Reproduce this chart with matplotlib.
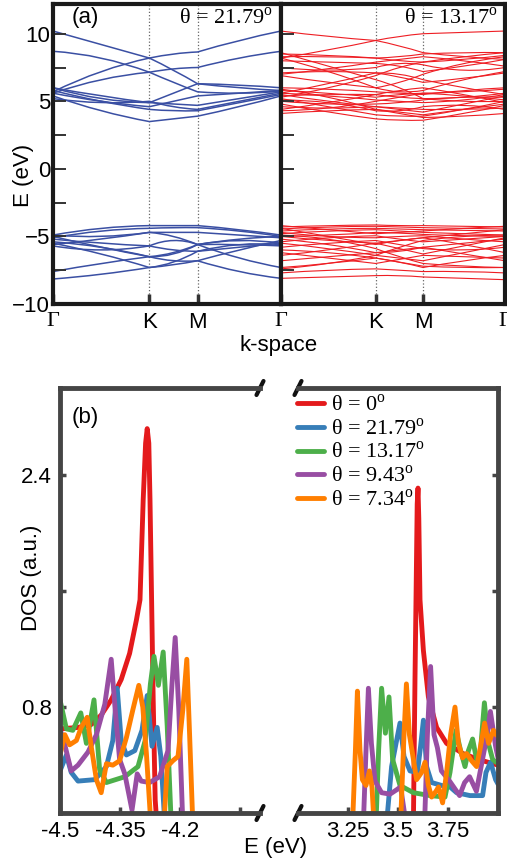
import numpy as np
import matplotlib
matplotlib.use("Agg")
import matplotlib.pyplot as plt
from matplotlib.path import Path
from matplotlib.patches import PathPatch

plt.rcParams['font.family'] = ['Liberation Sans', 'DejaVu Sans']
plt.rcParams['mathtext.fontset'] = 'custom'
plt.rcParams['mathtext.rm'] = 'Liberation Serif'

# ---------------- (a) band structure ----------------
# k-path positions: Gamma, 1/2 GK, K, 1/2 KM, M, 1/2 MG, Gamma
kpts = [0.0, 0.5, 1.0, 1.25, 1.5, 1.933, 2.366]
k_ticks = [0.0, 1.0, 1.5, 2.366]

# bands for theta = 21.79 deg, energies (eV) at the kpts above
bands_2179 = [
    [10.2, 9.2, 8.2, 7.3, 6.3, 6.0, 5.8],
    [5.7, 7.2, 8.2, 8.5, 8.65, 9.5, 10.2],
    [5.6, 6.6, 7.15, 7.4, 7.5, 8.2, 8.7],
    [8.7, 8.2, 7.15, 6.4, 5.7, 5.6, 5.75],
    [6.0, 5.4, 4.9, 5.6, 6.3, 6.2, 6.0],
    [5.8, 5.0, 4.4, 4.3, 4.3, 4.9, 5.5],
    [5.4, 4.3, 3.5, 3.7, 3.9, 4.6, 5.4],
    [5.6, 5.0, 4.6, 5.0, 5.4, 5.6, 5.8],
    [6.0, 5.2, 4.9, 4.8, 4.7, 5.2, 5.7],
    [5.2, 4.9, 5.0, 4.6, 4.4, 5.0, 5.6],
    [-4.9, -4.4, -4.2, -4.2, -4.2, -4.5, -4.9],
    [-5.1, -4.6, -4.4, -4.35, -4.35, -4.6, -5.0],
    [-4.9, -5.0, -4.7, -4.7, -4.7, -4.9, -5.1],
    [-5.0, -5.8, -6.5, -6.3, -5.6, -5.2, -5.0],
    [-5.5, -6.3, -7.3, -7.1, -6.8, -6.0, -5.3],
    [-7.6, -7.0, -6.5, -6.2, -5.6, -5.3, -5.5],
    [-8.15, -7.8, -7.3, -6.9, -6.1, -5.6, -5.6],
    [-5.7, -6.0, -5.7, -5.3, -5.6, -6.6, -7.3],
    [-5.4, -5.8, -6.5, -6.8, -6.8, -7.6, -8.1],
    [-5.2, -5.5, -5.7, -6.0, -6.1, -5.8, -5.5],
    [-5.6, -5.2, -4.7, -5.0, -5.6, -5.6, -5.7],
]

# bands for theta = 13.17 deg
bands_1317 = [
    [10.2, 9.8, 9.5, 9.1, 8.6, 8.3, 8.1],
    [8.2, 8.8, 9.5, 9.8, 10.0, 10.1, 10.2],
    [8.5, 8.4, 8.2, 8.0, 7.9, 8.1, 8.4],
    [8.3, 8.3, 8.2, 8.3, 8.5, 8.6, 8.6],
    [8.0, 7.9, 7.8, 7.6, 7.2, 7.6, 8.1],
    [7.0, 7.4, 7.9, 8.1, 8.3, 8.0, 7.6],
    [7.1, 7.2, 7.1, 6.8, 6.4, 6.7, 7.1],
    [8.2, 7.2, 6.0, 5.7, 5.8, 6.6, 7.2],
    [6.9, 6.4, 6.0, 6.4, 7.0, 7.8, 8.3],
    [5.6, 6.3, 7.1, 7.0, 6.6, 6.0, 5.5],
    [8.6, 7.6, 6.6, 6.0, 5.2, 5.0, 5.0],
    [5.3, 6.0, 6.9, 7.5, 7.9, 8.3, 8.6],
    [5.5, 5.0, 4.6, 4.4, 4.2, 4.8, 5.4],
    [5.2, 4.6, 4.0, 3.9, 3.9, 4.4, 5.0],
    [4.8, 4.2, 3.7, 3.6, 3.6, 4.1, 4.7],
    [5.0, 4.8, 4.8, 4.9, 5.1, 5.3, 5.3],
    [5.6, 5.4, 5.1, 5.0, 4.9, 5.1, 5.5],
    [4.6, 4.5, 4.6, 4.5, 4.4, 4.4, 4.5],
    [4.3, 4.5, 5.0, 5.3, 5.6, 5.4, 5.1],
    [5.9, 5.3, 4.4, 4.2, 4.0, 4.4, 4.8],
    [4.1, 4.3, 4.4, 4.1, 3.8, 3.9, 4.1],
    [5.4, 5.5, 5.5, 5.3, 5.2, 5.3, 5.6],
    [5.8, 5.6, 5.3, 5.5, 5.6, 5.7, 5.9],
    [4.4, 4.9, 5.5, 5.8, 6.0, 5.5, 4.9],
    [5.1, 4.9, 4.3, 4.3, 4.6, 4.7, 4.4],
    [6.0, 5.9, 5.7, 5.6, 5.5, 5.8, 6.0],
    [7.5, 7.3, 7.5, 7.8, 7.7, 7.3, 7.5],
    [-4.3, -4.2, -4.15, -4.2, -4.2, -4.25, -4.3],
    [-4.45, -4.3, -4.25, -4.3, -4.35, -4.4, -4.45],
    [-4.6, -4.45, -4.4, -4.45, -4.5, -4.55, -4.6],
    [-4.2, -4.5, -4.8, -4.7, -4.6, -4.4, -4.25],
    [-4.8, -4.6, -4.5, -4.6, -4.7, -4.8, -4.9],
    [-5.0, -4.9, -4.7, -4.75, -4.85, -4.95, -5.0],
    [-4.4, -5.0, -5.6, -5.3, -5.1, -4.8, -4.5],
    [-5.2, -5.6, -6.2, -6.1, -5.8, -5.5, -5.2],
    [-5.5, -5.9, -6.4, -6.6, -6.8, -6.2, -5.6],
    [-6.4, -6.0, -5.5, -5.3, -5.1, -5.6, -6.2],
    [-6.8, -6.5, -6.2, -6.0, -5.8, -6.3, -6.8],
    [-6.2, -6.6, -7.0, -6.7, -6.4, -6.5, -6.6],
    [-7.3, -7.0, -6.6, -6.9, -7.2, -7.3, -7.3],
    [-7.7, -7.5, -7.4, -7.5, -7.6, -7.6, -7.7],
    [-8.1, -8.0, -7.9, -7.9, -8.0, -8.1, -8.2],
    [-5.0, -5.3, -5.5, -5.9, -6.3, -5.7, -5.1],
    [-5.8, -5.5, -5.3, -5.6, -5.9, -6.0, -5.8],
    [-4.9, -5.2, -5.9, -6.5, -7.0, -7.2, -7.3],
    [-7.4, -7.0, -6.4, -5.8, -5.3, -5.0, -4.9],
    [-6.0, -6.2, -6.6, -6.9, -7.3, -6.8, -6.4],
    [-4.7, -5.0, -5.1, -5.0, -4.95, -5.2, -5.4],
    [-5.4, -5.1, -4.95, -5.2, -5.4, -5.2, -5.0],
]

# ---------------- (b) density of states ----------------
dos_labels = ['θ = 0$^{\\rm o}$', 'θ = 21.79$^{\\rm o}$', 'θ = 13.17$^{\\rm o}$',
              'θ = 9.43$^{\\rm o}$', 'θ = 7.34$^{\\rm o}$']
dos_colors = ['#e41a1c', '#377eb8', '#4daf4a', '#984ea3', '#ff7f00']

# valence side (E < 0)
red_lo_E = [-4.5, -4.455, -4.422, -4.397, -4.372, -4.347, -4.326, -4.309, -4.300, -4.292,
            -4.286, -4.282, -4.278, -4.275, -4.271, -4.267, -4.262, -4.258]
red_lo_D = [0.65, 0.66, 0.68, 0.745, 0.85, 0.99, 1.17, 1.40, 1.54, 2.23,
            2.62, 2.72, 2.62, 2.23, 1.54, 0.85, 0.16, 0.0]
blue_lo_E = [-4.5, -4.484, -4.472, -4.455, -4.413, -4.384, -4.368, -4.357, -4.347, -4.334,
             -4.313, -4.295, -4.282, -4.270, -4.257, -4.248, -4.238]
blue_lo_D = [0.36, 0.47, 0.35, 0.29, 0.30, 0.39, 0.57, 0.93, 0.57, 0.47,
             0.50, 0.64, 0.88, 0.53, 0.66, 0.46, 0.0]
green_lo_E = [-4.5, -4.484, -4.468, -4.448, -4.434, -4.415, -4.401, -4.384, -4.338, -4.305,
              -4.287, -4.274, -4.265, -4.254, -4.242, -4.232, -4.222]
green_lo_D = [0.85, 0.65, 0.64, 0.76, 0.55, 0.85, 0.37, 0.28, 0.32, 0.39,
              0.57, 0.96, 1.15, 0.95, 1.18, 0.67, 0.0]
purple_lo_E = [-4.5, -4.488, -4.472, -4.455, -4.43, -4.409, -4.388, -4.372, -4.362, -4.351,
               -4.338, -4.32, -4.307, -4.297, -4.276, -4.251, -4.23, -4.22, -4.212, -4.203, -4.193]
purple_lo_D = [0.65, 0.54, 0.36, 0.40, 0.49, 0.61, 0.82, 1.13, 0.78, 0.44,
               0.34, 0.09, 0.34, 0.29, 0.28, 0.32, 0.50, 0.96, 1.28, 0.78, 0.0]
orange_lo_E = [-4.5, -4.488, -4.476, -4.459, -4.447, -4.432, -4.422, -4.409, -4.397, -4.384,
               -4.368, -4.351, -4.334, -4.318, -4.303, -4.293, -4.284, -4.273, -4.262, -4.245,
               -4.240, -4.232, -4.218, -4.205, -4.193, -4.183, -4.176, -4.168]
orange_lo_D = [0.47, 0.61, 0.54, 0.57, 0.66, 0.73, 0.53, 0.30, 0.21, 0.41,
               0.40, 0.43, 0.59, 0.78, 0.95, 0.80, 0.48, 0.0, 0.0, 0.0,
               0.0, 0.39, 0.43, 0.46, 0.78, 1.13, 0.61, 0.0]

# conduction side (E > 0)
red_hi_E = [3.577, 3.585, 3.590, 3.596, 3.600, 3.604, 3.610, 3.627, 3.652, 3.693,
            3.743, 3.825, 3.90, 3.975, 4.0]
red_hi_D = [0.0, 1.0, 1.54, 2.2, 2.31, 2.1, 1.54, 1.19, 0.87, 0.66,
            0.55, 0.48, 0.44, 0.41, 0.40]
blue_hi_E = [3.443, 3.468, 3.493, 3.51, 3.53, 3.56, 3.597, 3.613, 3.627, 3.643,
             3.668, 3.718, 3.76, 3.793, 3.86, 3.923, 3.94, 3.963, 3.988, 4.0]
blue_hi_D = [0.0, 0.39, 0.57, 0.69, 0.46, 0.36, 0.35, 0.53, 0.71, 0.39,
             0.28, 0.26, 0.25, 0.21, 0.19, 0.19, 0.35, 0.42, 0.30, 0.27]
green_hi_E = [3.39, 3.403, 3.418, 3.437, 3.455, 3.473, 3.51, 3.577, 3.66, 3.735,
              3.76, 3.79, 3.813, 3.835, 3.852, 3.873, 3.893, 3.91, 3.932, 3.952,
              3.973, 3.99, 4.0]
green_hi_D = [0.0, 0.50, 0.93, 0.62, 0.87, 0.44, 0.26, 0.21, 0.19, 0.18,
              0.35, 0.64, 0.50, 0.39, 0.50, 0.58, 0.44, 0.46, 0.83, 0.55,
              0.44, 0.42, 0.42]
purple_hi_E = [3.327, 3.34, 3.352, 3.367, 3.385, 3.418, 3.46, 3.493, 3.513, 3.54,
               3.633, 3.647, 3.663, 3.68, 3.697, 3.717, 3.758, 3.808, 3.833, 3.858,
               3.892, 3.917, 3.942, 3.962, 3.988, 4.0]
purple_hi_D = [0.0, 0.50, 0.93, 0.55, 0.29, 0.21, 0.20, 0.23, 0.25, 0.0,
               0.0, 0.61, 1.08, 0.61, 0.52, 0.36, 0.29, 0.19, 0.28, 0.32,
               0.22, 0.40, 0.58, 0.77, 0.53, 0.45]
orange_hi_E = [3.273, 3.287, 3.297, 3.31, 3.322, 3.34, 3.357, 3.37, 3.38, 3.513,
               3.53, 3.542, 3.557, 3.577, 3.593, 3.618, 3.635, 3.652, 3.668, 3.69,
               3.703, 3.723, 3.743, 3.763, 3.785, 3.802, 3.823, 3.843, 3.868, 3.893,
               3.913, 3.933, 3.953, 3.977, 3.99, 4.0]
orange_hi_D = [0.0, 0.50, 0.91, 0.50, 0.30, 0.26, 0.36, 0.25, 0.0, 0.0,
               0.61, 0.96, 0.61, 0.44, 0.30, 0.35, 0.42, 0.26, 0.18, 0.22,
               0.25, 0.14, 0.35, 0.61, 0.80, 0.55, 0.45, 0.48, 0.43, 0.39,
               0.53, 0.69, 0.55, 0.64, 0.61, 0.60]

lo_series = [(red_lo_E, red_lo_D), (blue_lo_E, blue_lo_D), (green_lo_E, green_lo_D),
             (purple_lo_E, purple_lo_D), (orange_lo_E, orange_lo_D)]
hi_series = [(red_hi_E, red_hi_D), (blue_hi_E, blue_hi_D), (green_hi_E, green_hi_D),
             (purple_hi_E, purple_hi_D), (orange_hi_E, orange_hi_D)]


def draw_band(ax, e, color, lw):
    # smooth quadratic segments through the sampled energies
    verts = [(kpts[0], e[0])]
    codes = [Path.MOVETO]
    for i in range(0, 6, 2):
        xa, xm, xb = kpts[i], kpts[i + 1], kpts[i + 2]
        ea, em, eb = e[i], e[i + 1], e[i + 2]
        verts += [(xm, 2 * em - (ea + eb) / 2), (xb, eb)]
        codes += [Path.CURVE3, Path.CURVE3]
    ax.add_patch(PathPatch(Path(verts, codes), fill=False, edgecolor=color, lw=lw))


W, H = 507, 861
fig = plt.figure(figsize=(W / 100, H / 100), dpi=100)


def px_axes(x0, y0, x1, y1):
    return fig.add_axes([x0 / W, 1 - y1 / H, (x1 - x0) / W, (y1 - y0) / H])


axA1 = px_axes(53, 4, 281, 304)
axA2 = px_axes(281, 4, 505, 304)
frame_a = '#1a1a1a'
for ax, bands, col, lw in [(axA1, bands_2179, '#3a4fa3', 1.1), (axA2, bands_1317, '#ee1d23', 0.8)]:
    for b in bands:
        draw_band(ax, b, col, lw)
    ax.set_xlim(0, 2.366)
    ax.set_ylim(-10, 12.2)
    for k in k_ticks[1:3]:
        ax.axvline(k, color='#666666', ls=':', lw=0.9, zorder=0)
    for s in ax.spines.values():
        s.set_linewidth(3.0)
        s.set_color(frame_a)
    ax.set_yticks([-10, -5, 0, 5, 10])
    ax.set_yticks([-7.5, -2.5, 2.5, 7.5], minor=True)
    ax.tick_params(axis='y', which='both', direction='in', length=9, width=1.4,
                   color='#333333', labelsize=16, pad=2, right=False)
    ax.set_xticks(k_ticks)
    ax.tick_params(axis='x', direction='in', length=7, width=2.5, color='#333333',
                   labelsize=16, pad=6, top=False)

axA1.set_xticklabels(['Γ', 'K', 'M', 'Γ'])
axA2.set_xticklabels(['', 'K', 'M', 'Γ'])
axA2.tick_params(axis='y', labelleft=False)
for ax in (axA1, axA2):
    for lbl in ax.get_xticklabels():
        if lbl.get_text() == 'Γ':
            lbl.set_fontfamily('Liberation Serif')

fig.text(23 / W, 1 - 175 / H, 'E (eV)', rotation=90, ha='center', va='center', fontsize=16)
fig.text(279 / W, 1 - 346 / H, 'k-space', ha='center', va='center', fontsize=16)
fig.text(72 / W, 1 - 17 / H, '(a)', ha='left', va='center', fontsize=16)
fig.text(273 / W, 1 - 18 / H, 'θ = 21.79$^{\\rm o}$', ha='right', va='center', fontsize=16,
         family='Liberation Serif')
fig.text(498 / W, 1 - 18 / H, 'θ = 13.17$^{\\rm o}$', ha='right', va='center', fontsize=16,
         family='Liberation Serif')

# ---------------- panel (b) ----------------
axB1 = px_axes(60, 388, 260, 813)
axB2 = px_axes(298, 388, 498, 813)
frame_b = '#454545'
handles = []
for (e, d), col, lab in zip(lo_series, dos_colors, dos_labels):
    axB1.plot(e, d, color=col, lw=3.5, solid_joinstyle='round', solid_capstyle='round')
for (e, d), col, lab in zip(hi_series, dos_colors, dos_labels):
    h, = axB2.plot(e, d, color=col, lw=3.5, solid_joinstyle='round', solid_capstyle='round',
                   label=lab)
    handles.append(h)

axB1.set_xlim(-4.5, -4.0)
axB2.set_xlim(3.0, 4.0)
for ax in (axB1, axB2):
    ax.set_ylim(0.07, 3.0)
    for s in ax.spines.values():
        s.set_linewidth(3.5)
        s.set_color(frame_b)
    ax.set_yticks([0.8, 1.6, 2.4])
    ax.tick_params(direction='in', length=4, width=2.5, color=frame_b, labelsize=16, pad=6)

axB1.spines['right'].set_visible(False)
axB2.spines['left'].set_visible(False)
axB1.set_xticks([-4.5, -4.35, -4.2, -4.05])
axB1.set_xticklabels(['-4.5', '-4.35', '-4.2', ''])
axB1.set_yticklabels(['0.8', '', '2.4'])
axB1.tick_params(axis='y', right=False)
axB2.set_xticks([3.25, 3.5, 3.75])
axB2.set_xticklabels(['3.25', '3.5', '3.75'])
axB2.tick_params(axis='y', left=False, right=True, labelleft=False)

# axis break marks
bk = dict(color='#111111', lw=3.0, clip_on=False, solid_capstyle='round')
dx, dy = 3.5 / 200, 7 / 425
for yy in (0, 1):
    axB1.plot([1 - dx, 1 + dx], [yy - dy, yy + dy], transform=axB1.transAxes, **bk)
    axB2.plot([-dx, dx], [yy - dy, yy + dy], transform=axB2.transAxes, **bk)

axB2.legend(handles=handles, loc='upper left', bbox_to_anchor=(-0.04, 1.0), frameon=False,
            prop={'family': 'Liberation Serif', 'size': 16}, handlelength=1.25,
            handletextpad=0.3, labelspacing=0.1, borderaxespad=0.2, borderpad=0.1)

fig.text(32 / W, 1 - 578 / H, 'DOS (a.u.)', rotation=90, ha='center', va='center', fontsize=16)
fig.text(276 / W, 1 - 848 / H, 'E (eV)', ha='center', va='center', fontsize=16)
fig.text(72 / W, 1 - 417 / H, '(b)', ha='left', va='center', fontsize=16)

fig.savefig('out.png', dpi=100)
